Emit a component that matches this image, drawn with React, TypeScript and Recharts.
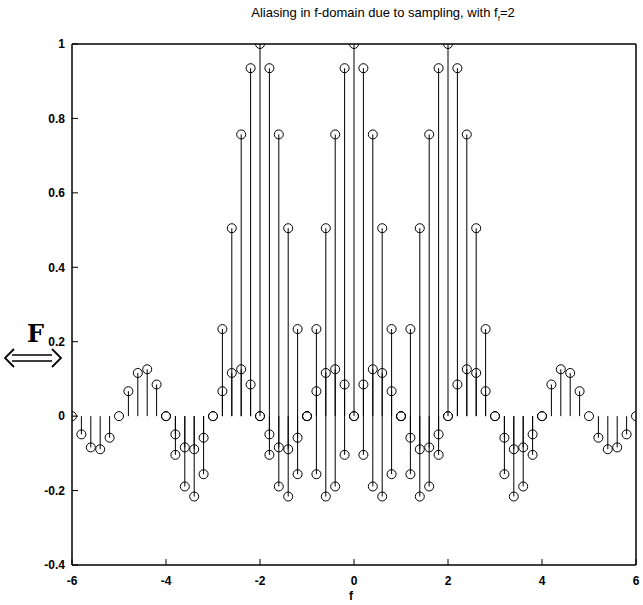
import { ScatterChart, Scatter, XAxis, YAxis, ErrorBar } from 'recharts';

// frequency grid, step 0.2
const freqs = [
  -6, -5.8, -5.6, -5.4, -5.2, -5, -4.8, -4.6, -4.4, -4.2,
  -4, -3.8, -3.6, -3.4, -3.2, -3, -2.8, -2.6, -2.4, -2.2,
  -2, -1.8, -1.6, -1.4, -1.2, -1, -0.8, -0.6, -0.4, -0.2,
  0, 0.2, 0.4, 0.6, 0.8, 1, 1.2, 1.4, 1.6, 1.8,
  2, 2.2, 2.4, 2.6, 2.8, 3, 3.2, 3.4, 3.6, 3.8,
  4, 4.2, 4.4, 4.6, 4.8, 5, 5.2, 5.4, 5.6, 5.8, 6,
];

// copy centred at f = -2 (starts at f = -6)
const leftCopy = [
  0, -0.049, -0.084, -0.089, -0.058, 0, 0.067, 0.116, 0.126, 0.085,
  0, -0.104, -0.189, -0.216, -0.156, 0, 0.234, 0.505, 0.757, 0.935,
  1, 0.935, 0.757, 0.505, 0.234, 0, -0.156, -0.216, -0.189, -0.104,
  0, 0.085, 0.126, 0.116, 0.067, 0, -0.058, -0.089, -0.084, -0.049, 0,
];
// copy centred at f = 0 (starts at f = -4)
const centerCopy = [
  0, -0.049, -0.084, -0.089, -0.058, 0, 0.067, 0.116, 0.126, 0.085,
  0, -0.104, -0.189, -0.216, -0.156, 0, 0.234, 0.505, 0.757, 0.935,
  1, 0.935, 0.757, 0.505, 0.234, 0, -0.156, -0.216, -0.189, -0.104,
  0, 0.085, 0.126, 0.116, 0.067, 0, -0.058, -0.089, -0.084, -0.049, 0,
];
// copy centred at f = 2 (starts at f = -2)
const rightCopy = [
  0, -0.049, -0.084, -0.089, -0.058, 0, 0.067, 0.116, 0.126, 0.085,
  0, -0.104, -0.189, -0.216, -0.156, 0, 0.234, 0.505, 0.757, 0.935,
  1, 0.935, 0.757, 0.505, 0.234, 0, -0.156, -0.216, -0.189, -0.104,
  0, 0.085, 0.126, 0.116, 0.067, 0, -0.058, -0.089, -0.084, -0.049, 0,
];
const copyStarts = [0, 10, 20];

const xTicks = [-6, -4, -2, 0, 2, 4, 6];
const yTicks = [-0.4, -0.2, 0, 0.2, 0.4, 0.6, 0.8, 1];

const toRows = (vals: number[], start: number) =>
  vals.map((v, i) => ({
    f: freqs[start + i],
    v,
    err: v >= 0 ? [v, 0] : [0, -v],
  }));

const series = [leftCopy, centerCopy, rightCopy].map((vals, k) => toRows(vals, copyStarts[k]));

const font = '"Liberation Sans", Arial, Helvetica, sans-serif';
const tickStyle = { fill: '#000', fontSize: 12, fontWeight: 700, fontFamily: font };
const axisLine = { stroke: '#000', strokeWidth: 1.5 };
const tickLine = { stroke: '#000', strokeWidth: 1 };

const StemHead = (props: any) => {
  const { cx, cy } = props;
  if (cx == null || cy == null) return null;
  return <circle cx={cx} cy={cy} r={4.5} fill="none" stroke="#000" strokeWidth={1} />;
};

const App = () => {
  return (
    <div style={{ position: 'absolute', left: 0, top: 0, width: 643, height: 605, background: '#fff' }}>
      <ScatterChart width={643} height={605} margin={{ top: 43, right: 6, bottom: 0, left: 0 }}>
        <XAxis
          xAxisId="b"
          type="number"
          dataKey="f"
          domain={[-6, 6]}
          ticks={xTicks}
          allowDataOverflow
          height={40}
          tickSize={-6}
          tickMargin={17}
          axisLine={axisLine}
          tickLine={tickLine}
          tick={tickStyle}
        />
        <XAxis
          xAxisId="t"
          orientation="top"
          type="number"
          dataKey="f"
          domain={[-6, 6]}
          ticks={xTicks}
          allowDataOverflow
          height={1}
          tickSize={-6}
          tick={false}
          axisLine={axisLine}
          tickLine={tickLine}
        />
        <YAxis
          yAxisId="l"
          type="number"
          dataKey="v"
          domain={[-0.4, 1]}
          ticks={yTicks}
          allowDataOverflow
          width={72}
          tickSize={-6}
          tickMargin={13}
          axisLine={axisLine}
          tickLine={tickLine}
          tick={tickStyle}
        />
        <YAxis
          yAxisId="r"
          orientation="right"
          type="number"
          dataKey="v"
          domain={[-0.4, 1]}
          ticks={yTicks}
          allowDataOverflow
          width={1}
          tickSize={-6}
          tick={false}
          axisLine={axisLine}
          tickLine={tickLine}
        />
        {series.map((rows, k) => (
          <Scatter
            key={k}
            xAxisId="b"
            yAxisId="l"
            data={rows}
            shape={<StemHead />}
            isAnimationActive={false}
          >
            <ErrorBar dataKey="err" direction="y" width={0} stroke="#000" strokeWidth={1} isAnimationActive={false} />
          </Scatter>
        ))}
        {/* invisible series so the box axes get registered */}
        <Scatter
          xAxisId="t"
          yAxisId="r"
          data={series[1]}
          shape={() => null}
          isAnimationActive={false}
        />
      </ScatterChart>

      <div
        style={{
          position: 'absolute', left: 233, top: 5, width: 300, textAlign: 'center',
          fontFamily: font, fontSize: 13, color: '#000', whiteSpace: 'nowrap',
        }}
      >
        Aliasing in f-domain due to sampling, with f<sub style={{ fontSize: 8 }}>f</sub>=2
      </div>
      <div
        style={{
          position: 'absolute', left: 349, top: 589, fontFamily: font, fontSize: 12,
          fontWeight: 700, color: '#000',
        }}
      >
        f
      </div>
      <div
        style={{
          position: 'absolute', left: 27, top: 320, fontFamily: '"DejaVu Serif", "Liberation Serif", serif',
          fontSize: 24, fontWeight: 700, color: '#000', lineHeight: '28px',
        }}
      >
        F
      </div>
      <svg style={{ position: 'absolute', left: 0, top: 346 }} width={70} height={24}>
        <path d="M12 9 H52 M12 15 H52" stroke="#000" strokeWidth={1.5} fill="none" />
        <path d="M14 3 L5 12 L14 21 M52 3 L61 12 L52 21" stroke="#000" strokeWidth={1.8} fill="none" />
      </svg>
    </div>
  );
};

export default App;
